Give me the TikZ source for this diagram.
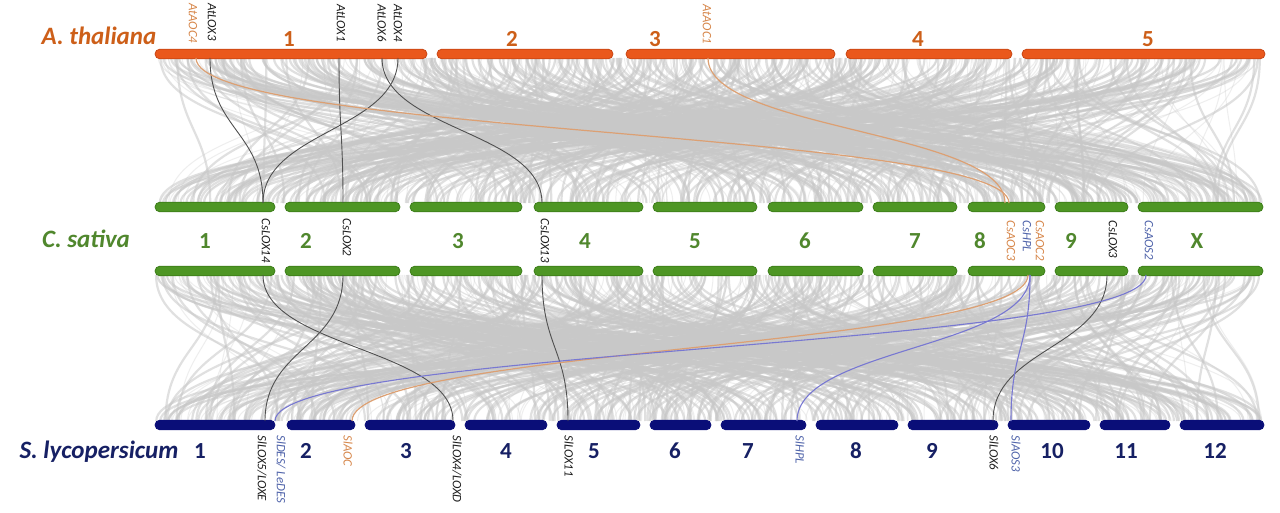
\documentclass[tikz,border=0pt]{standalone}
\usepackage{fontspec}
\setmainfont{Carlito}
\definecolor{barA}{RGB}{234,88,28}
\definecolor{barAd}{RGB}{200,70,20}
\definecolor{barC}{RGB}{78,150,36}
\definecolor{barCd}{RGB}{60,125,25}
\definecolor{barS}{RGB}{10,14,120}
\definecolor{txtA}{RGB}{205,95,25}
\definecolor{txtC}{RGB}{80,135,45}
\definecolor{txtS}{RGB}{22,32,100}
\definecolor{genO}{RGB}{215,135,75}
\definecolor{genB}{RGB}{80,100,170}
\definecolor{genK}{RGB}{30,30,30}
\definecolor{lnO}{RGB}{220,160,115}
\definecolor{lnB}{RGB}{120,120,210}
\definecolor{lnK}{RGB}{80,80,80}
\definecolor{syn}{RGB}{200,200,200}
\tikzset{
  chrbar/.style={inner sep=0pt, outer sep=0pt, minimum height=4.8pt, rounded corners=2.4pt, line width=0.4pt},
  abar/.style={chrbar, fill=barA, draw=barAd},
  cbar/.style={chrbar, fill=barC, draw=barCd},
  sbar/.style={chrbar, fill=barS, draw=barS},
  species/.style={font=\fontsize{12.5}{14}\selectfont\bfseries\itshape, anchor=base, inner sep=0pt},
  chrnum/.style={font=\fontsize{11.5}{13}\selectfont\bfseries, anchor=base, inner sep=0pt},
  gene/.style={font=\fontsize{6.4}{7}\selectfont\itshape, rotate=-90, anchor=west, inner sep=0pt},
  synA/.style={draw=syn, line width=1.1pt, opacity=0.55},
  synB/.style={draw=syn, line width=0.5pt, opacity=0.3},
  hiK/.style={draw=lnK, line width=0.45pt},
  hiO/.style={draw=lnO, line width=0.6pt},
  hiB/.style={draw=lnB, line width=0.55pt},
}
\begin{document}
\begin{tikzpicture}[x=0.5pt,y=-0.5pt]
\useasboundingbox (0,0) rectangle (1280,513);
\fill[white] (0,0) rectangle (1280,513);

% ---- background synteny curves ----
\pgfmathsetseed{7}
\foreach \i in {1,...,360}{
  \pgfmathsetmacro\xa{156+1106*rnd}
  \pgfmathsetmacro\xb{156+1106*rnd}
  \draw[synA] (\xa,58) .. controls (\xa,130) and (\xb,130) .. (\xb,203);
  \pgfmathsetmacro\xc{156+1106*rnd}
  \pgfmathsetmacro\xd{156+1106*rnd}
  \draw[synA] (\xc,275) .. controls (\xc,348) and (\xd,348) .. (\xd,421);
}
\foreach \i in {1,...,220}{
  \pgfmathsetmacro\xa{156+1106*rnd}
  \pgfmathsetmacro\xb{156+1106*rnd}
  \draw[synB] (\xa,58) .. controls (\xa,130) and (\xb,130) .. (\xb,203);
  \pgfmathsetmacro\xc{156+1106*rnd}
  \pgfmathsetmacro\xd{156+1106*rnd}
  \draw[synB] (\xc,275) .. controls (\xc,348) and (\xd,348) .. (\xd,421);
}

% ---- chromosome bars ----
\foreach \n/\a/\b in {1/155/427,2/437/613,3/626/835,4/846/1012,5/1022/1265}
  \node[abar, minimum width={(\b-\a)*0.5pt}] (A\n) at ({(\a+\b)/2},54) {};
\foreach \n/\a/\b in {1/155/275,2/285/400,3/410/522,4/534/643,5/653/757,6/768/863,7/873/957,8/968/1045,9/1055/1128,X/1138/1263}{
  \node[cbar, minimum width={(\b-\a)*0.5pt}] (CU\n) at ({(\a+\b)/2},207) {};
  \node[cbar, minimum width={(\b-\a)*0.5pt}] (CL\n) at ({(\a+\b)/2},271) {};
}
\foreach \n/\a/\b in {1/155/275,2/287/355,3/365/455,4/465/547,5/557/640,6/650/711,7/721/806,8/816/898,9/908/998,10/1008/1090,11/1100/1170,12/1180/1264}
  \node[sbar, minimum width={(\b-\a)*0.5pt}] (S\n) at ({(\a+\b)/2},425) {};

% ---- species and chromosome numbers ----
\node[species, text=txtA] (spA) at (99,45) {A. thaliana};
\node[species, text=txtC] (spC) at (86,248) {C. sativa};
\node[species, text=txtS] (spS) at (99,458) {S. lycopersicum};
\foreach \n/\x in {1/289,2/512,3/655,4/918,5/1148}
  \node[chrnum, text=txtA] (nA\n) at (\x,47) {\n};
\foreach \n/\x in {1/205,2/306,3/458,4/585,5/695,6/805,7/915,8/980,9/1071,X/1197}
  \node[chrnum, text=txtC] (nC\n) at (\x,249) {\n};
\foreach \n/\x in {1/200,2/306,3/406,4/506,5/594,6/675,7/748,8/856,9/932,10/1052,11/1126,12/1215}
  \node[chrnum, text=txtS] (nS\n) at (\x,458) {\n};

% ---- gene labels ----
\node[gene, text=genO] (lAtAOC4) at (193,3) {AtAOC4};
\node[gene, text=genK] (lAtLOX3) at (212,3) {AtLOX3};
\node[gene, text=genK] (lAtLOX1) at (341,4) {AtLOX1};
\node[gene, text=genK] (lAtLOX6) at (382,4) {AtLOX6};
\node[gene, text=genK] (lAtLOX4) at (398,4) {AtLOX4};
\node[gene, text=genO] (lAtAOC1) at (707,4) {AtAOC1};

\node[gene, text=genK] (lCsLOX14) at (266,218) {CsLOX14};
\node[gene, text=genK] (lCsLOX2) at (347,218) {CsLOX2};
\node[gene, text=genK] (lCsLOX13) at (545,218) {CsLOX13};
\node[gene, text=genO] (lCsAOC3) at (1011,220) {CsAOC3};
\node[gene, text=genB] (lCsHPL) at (1027,220) {CsHPL};
\node[gene, text=genO] (lCsAOC2) at (1040,220) {CsAOC2};
\node[gene, text=genK] (lCsLOX3) at (1113,220) {CsLOX3};
\node[gene, text=genB] (lCsAOS2) at (1149,220) {CsAOS2};

\node[gene, text=genK] (lSlLOX5) at (262,435) {SlLOX5/LOXE};
\node[gene, text=genB] (lSlDES) at (281,435) {SlDES/ LeDES};
\node[gene, text=genO] (lSlAOC) at (348,435) {SlAOC};
\node[gene, text=genK] (lSlLOX4) at (457,435) {SlLOX4/LOXD};
\node[gene, text=genK] (lSlLOX11) at (569,435) {SlLOX11};
\node[gene, text=genB] (lSlHPL) at (800,435) {SlHPL};
\node[gene, text=genK] (lSlLOX6) at (994,435) {SlLOX6};
\node[gene, text=genB] (lSlAOS3) at (1016,435) {SlAOS3};

% ---- gene positions on the bars ----
\coordinate (gAtAOC4) at (196,58);
\coordinate (gAtLOX3) at (210,58);
\coordinate (gAtLOX1) at (339,58);
\coordinate (gAtLOX6) at (382,58);
\coordinate (gAtLOX4) at (398,58);
\coordinate (gAtAOC1) at (708,58);
\coordinate (gCsLOX14u) at (263,203);
\coordinate (gCsLOX2u) at (343,203);
\coordinate (gCsLOX13u) at (542,203);
\coordinate (gCsAOC3u) at (1009,203);
\coordinate (gCsAOC2u) at (1005,203);
\coordinate (gCsLOX14) at (263,275);
\coordinate (gCsLOX2) at (343,275);
\coordinate (gCsLOX13) at (542,275);
\coordinate (gCsAOC) at (1028,275);
\coordinate (gCsHPL) at (1030,275);
\coordinate (gCsLOX3) at (1107,275);
\coordinate (gCsAOS2) at (1146,275);
\coordinate (gSlLOX5) at (265,421);
\coordinate (gSlDES) at (275,421);
\coordinate (gSlAOC) at (352,421);
\coordinate (gSlLOX4) at (453,421);
\coordinate (gSlLOX11) at (568,421);
\coordinate (gSlHPL) at (797,421);
\coordinate (gSlLOX6) at (993,421);
\coordinate (gSlAOS3) at (1011,421);

% ---- highlighted connections ----
\draw[hiK] (gAtLOX3) .. controls +(0,72) and +(0,-72) .. (gCsLOX14u);
\draw[hiK] (gAtLOX1) .. controls +(0,72) and +(0,-72) .. (gCsLOX2u);
\draw[hiK] (gAtLOX4) .. controls +(0,72) and +(0,-72) .. (gCsLOX14u);
\draw[hiK] (gAtLOX6) .. controls +(0,72) and +(0,-72) .. (gCsLOX13u);
\draw[hiO] (gAtAOC4) .. controls +(0,76) and +(0,-72) .. (gCsAOC3u);
\draw[hiO] (gAtAOC1) .. controls +(0,72) and +(0,-72) .. (gCsAOC2u);

\draw[hiK] (gCsLOX14) .. controls +(0,73) and +(0,-73) .. (gSlLOX4);
\draw[hiK] (gCsLOX2) .. controls +(0,73) and +(0,-73) .. (gSlLOX5);
\draw[hiK] (gCsLOX13) .. controls +(0,73) and +(0,-73) .. (gSlLOX11);
\draw[hiK] (gCsLOX3) .. controls +(0,73) and +(0,-73) .. (gSlLOX6);
\draw[hiO] (gCsAOC) .. controls +(0,73) and +(0,-73) .. (gSlAOC);
\draw[hiB] (gCsHPL) .. controls +(0,73) and +(0,-73) .. (gSlHPL);
\draw[hiB] (gCsHPL) .. controls +(0,73) and +(0,-73) .. (gSlAOS3);
\draw[hiB] (gCsAOS2) .. controls +(0,73) and +(0,-73) .. (gSlDES);
\end{tikzpicture}
\end{document}
